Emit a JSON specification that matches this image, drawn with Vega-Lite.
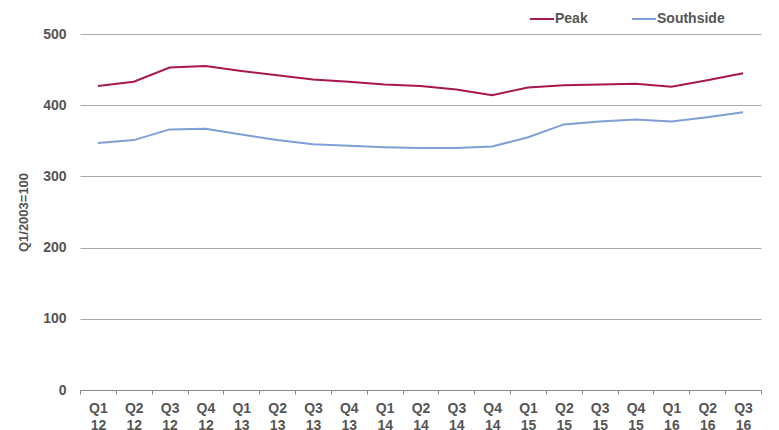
{
  "$schema": "https://vega.github.io/schema/vega-lite/v6.json",
  "width": 681,
  "height": 356,
  "autosize": {"type": "none"},
  "padding": {"left": 80, "top": 34, "right": 18, "bottom": 40},
  "background": "white",
  "config": {
    "view": {"stroke": null},
    "font": "Liberation Sans"
  },
  "data": {
    "values": [
      {"quarter": "Q1 12", "series": "Peak", "value": 427},
      {"quarter": "Q2 12", "series": "Peak", "value": 433},
      {"quarter": "Q3 12", "series": "Peak", "value": 453},
      {"quarter": "Q4 12", "series": "Peak", "value": 455},
      {"quarter": "Q1 13", "series": "Peak", "value": 448},
      {"quarter": "Q2 13", "series": "Peak", "value": 442},
      {"quarter": "Q3 13", "series": "Peak", "value": 436},
      {"quarter": "Q4 13", "series": "Peak", "value": 433},
      {"quarter": "Q1 14", "series": "Peak", "value": 429},
      {"quarter": "Q2 14", "series": "Peak", "value": 427},
      {"quarter": "Q3 14", "series": "Peak", "value": 422},
      {"quarter": "Q4 14", "series": "Peak", "value": 414},
      {"quarter": "Q1 15", "series": "Peak", "value": 425},
      {"quarter": "Q2 15", "series": "Peak", "value": 428},
      {"quarter": "Q3 15", "series": "Peak", "value": 429},
      {"quarter": "Q4 15", "series": "Peak", "value": 430},
      {"quarter": "Q1 16", "series": "Peak", "value": 426},
      {"quarter": "Q2 16", "series": "Peak", "value": 435},
      {"quarter": "Q3 16", "series": "Peak", "value": 445},
      {"quarter": "Q1 12", "series": "Southside", "value": 347},
      {"quarter": "Q2 12", "series": "Southside", "value": 351},
      {"quarter": "Q3 12", "series": "Southside", "value": 366},
      {"quarter": "Q4 12", "series": "Southside", "value": 367},
      {"quarter": "Q1 13", "series": "Southside", "value": 359},
      {"quarter": "Q2 13", "series": "Southside", "value": 351},
      {"quarter": "Q3 13", "series": "Southside", "value": 345},
      {"quarter": "Q4 13", "series": "Southside", "value": 343},
      {"quarter": "Q1 14", "series": "Southside", "value": 341},
      {"quarter": "Q2 14", "series": "Southside", "value": 340},
      {"quarter": "Q3 14", "series": "Southside", "value": 340},
      {"quarter": "Q4 14", "series": "Southside", "value": 342},
      {"quarter": "Q1 15", "series": "Southside", "value": 355},
      {"quarter": "Q2 15", "series": "Southside", "value": 373},
      {"quarter": "Q3 15", "series": "Southside", "value": 377},
      {"quarter": "Q4 15", "series": "Southside", "value": 380},
      {"quarter": "Q1 16", "series": "Southside", "value": 377},
      {"quarter": "Q2 16", "series": "Southside", "value": 383},
      {"quarter": "Q3 16", "series": "Southside", "value": 390}
    ]
  },
  "mark": {"type": "line", "strokeWidth": 2},
  "encoding": {
    "x": {
      "field": "quarter",
      "type": "ordinal",
      "sort": null,
      "scale": {"type": "band", "paddingInner": 0, "paddingOuter": 0},
      "axis": {
        "title": null,
        "labelAngle": 0,
        "labelExpr": "split(datum.label, ' ')",
        "labelLineHeight": 17,
        "labelFontSize": 14,
        "labelFontWeight": "bold",
        "labelColor": "#555555",
        "labelPadding": 7,
        "tickBand": "extent",
        "tickSize": 4,
        "tickColor": "#888888",
        "domainColor": "#888888",
        "grid": false
      }
    },
    "y": {
      "field": "value",
      "type": "quantitative",
      "scale": {"domain": [0, 500]},
      "axis": {
        "title": "Q1/2003=100",
        "titleFontSize": 13,
        "titleFontWeight": "bold",
        "titleColor": "#555555",
        "titlePadding": 12,
        "values": [0, 100, 200, 300, 400, 500],
        "labelFontSize": 14,
        "labelFontWeight": "bold",
        "labelColor": "#555555",
        "labelPadding": 14,
        "domain": false,
        "ticks": false,
        "grid": true,
        "gridColor": "#aaaaaa",
        "gridWidth": 1
      }
    },
    "color": {
      "field": "series",
      "type": "nominal",
      "scale": {"domain": ["Peak", "Southside"], "range": ["#a8174f", "#7f9fd6"]},
      "legend": {
        "title": null,
        "orient": "none",
        "direction": "horizontal",
        "legendX": 449,
        "legendY": -28,
        "symbolType": "stroke",
        "symbolSize": 576,
        "symbolStrokeWidth": 2,
        "labelFontSize": 14,
        "labelFontWeight": "bold",
        "labelColor": "#555555",
        "labelOffset": 0,
        "columnPadding": 40
      }
    }
  }
}
